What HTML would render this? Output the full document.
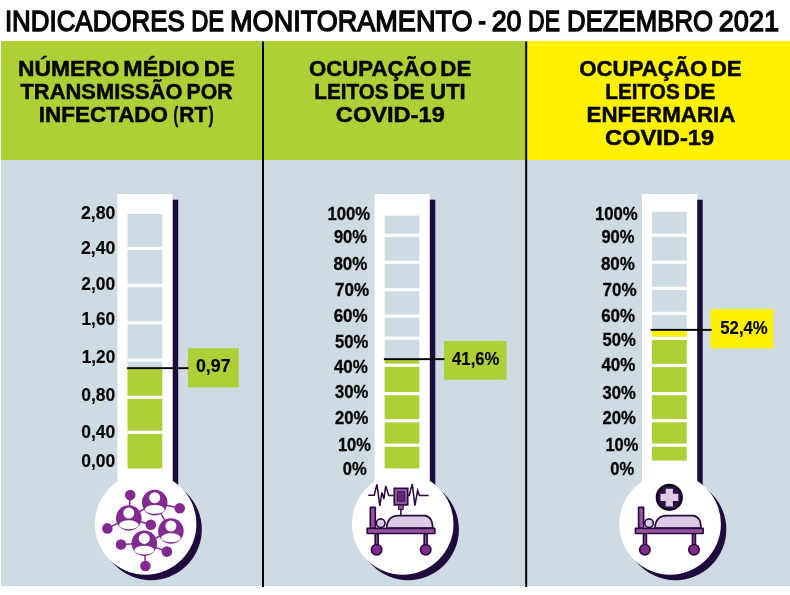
<!DOCTYPE html>
<html lang="pt-BR">
<head>
<meta charset="utf-8">
<title>Indicadores de monitoramento - 20 de dezembro 2021</title>
<style>
html,body{margin:0;padding:0;background:#fff;}
body{width:790px;height:595px;overflow:hidden;font-family:"Liberation Sans",Arial,sans-serif;}
main,figure{margin:0;padding:0;display:block;width:790px;height:595px;}
svg{display:block;}
svg text{font-family:"Liberation Sans",Arial,sans-serif;fill:#060606;}
</style>
</head>
<body>
<main>
<figure aria-label="Indicadores de monitoramento - 20 de dezembro 2021">
<svg width="790" height="595" viewBox="0 0 790 595" role="img">
<rect x="0" y="0" width="790" height="595" fill="#ffffff"/>
<text y="30.85" font-size="30.3" font-weight="normal" stroke="#060606" stroke-width="1.4"><tspan x="4.91" textLength="179.78" lengthAdjust="spacingAndGlyphs">INDICADORES</tspan> <tspan x="191.15" textLength="32.97" lengthAdjust="spacingAndGlyphs">DE</tspan> <tspan x="230.09" textLength="242.4" lengthAdjust="spacingAndGlyphs">MONITORAMENTO</tspan> <tspan x="478.36" textLength="7.77" lengthAdjust="spacingAndGlyphs">-</tspan> <tspan x="491.65" textLength="29.79" lengthAdjust="spacingAndGlyphs">20</tspan> <tspan x="528.12" textLength="31.87" lengthAdjust="spacingAndGlyphs">DE</tspan> <tspan x="567.09" textLength="145.94" lengthAdjust="spacingAndGlyphs">DEZEMBRO</tspan> <tspan x="718.84" textLength="60.18" lengthAdjust="spacingAndGlyphs">2021</tspan></text>
<rect x="1" y="41" width="789" height="545" fill="#cfdbe2"/>
<rect x="1" y="41" width="525" height="119" fill="#add036"/>
<rect x="526" y="41" width="264" height="119" fill="#fff100"/>
<rect x="262" y="41.5" width="2" height="545.5" fill="#000"/>
<rect x="525.2" y="41.5" width="2" height="545.5" fill="#000"/>
<text y="75.8" font-size="22.9" font-weight="bold" stroke="#060606" stroke-width="0.5"><tspan x="18.02" textLength="101.49" lengthAdjust="spacingAndGlyphs">NÚMERO</tspan> <tspan x="123.29" textLength="76.23" lengthAdjust="spacingAndGlyphs">MÉDIO</tspan> <tspan x="203.75" textLength="31.07" lengthAdjust="spacingAndGlyphs">DE</tspan></text>
<text y="98.9" font-size="22.9" font-weight="bold" stroke="#060606" stroke-width="0.5"><tspan x="20.4" textLength="162.07" lengthAdjust="spacingAndGlyphs">TRANSMISSÃO</tspan> <tspan x="186.53" textLength="45.95" lengthAdjust="spacingAndGlyphs">POR</tspan></text>
<text y="121.8" font-size="22.9" font-weight="bold" stroke="#060606" stroke-width="0.5"><tspan x="38.87" textLength="129.11" lengthAdjust="spacingAndGlyphs">INFECTADO</tspan> <tspan x="173.44" textLength="4.72" lengthAdjust="spacingAndGlyphs">(</tspan><tspan x="179.35" textLength="27.93" lengthAdjust="spacingAndGlyphs">RT</tspan><tspan x="208.74" textLength="4.84" lengthAdjust="spacingAndGlyphs">)</tspan></text>
<text y="75.8" font-size="22.9" font-weight="bold" stroke="#060606" stroke-width="0.5"><tspan x="308.95" textLength="128.02" lengthAdjust="spacingAndGlyphs">OCUPAÇÃO</tspan> <tspan x="440.36" textLength="30.96" lengthAdjust="spacingAndGlyphs">DE</tspan></text>
<text y="98.8" font-size="22.9" font-weight="bold" stroke="#060606" stroke-width="0.5"><tspan x="314.37" textLength="74.28" lengthAdjust="spacingAndGlyphs">LEITOS</tspan> <tspan x="393.23" textLength="31.5" lengthAdjust="spacingAndGlyphs">DE</tspan> <tspan x="430.33" textLength="35.39" lengthAdjust="spacingAndGlyphs">UTI</tspan></text>
<text y="121.7" font-size="22.9" font-weight="bold" stroke="#060606" stroke-width="0.5"><tspan x="335.88" textLength="108.95" lengthAdjust="spacingAndGlyphs">COVID-19</tspan></text>
<text y="75.8" font-size="22.9" font-weight="bold" stroke="#060606" stroke-width="0.5"><tspan x="579.25" textLength="128.02" lengthAdjust="spacingAndGlyphs">OCUPAÇÃO</tspan> <tspan x="710.65" textLength="31.07" lengthAdjust="spacingAndGlyphs">DE</tspan></text>
<text y="98.8" font-size="22.9" font-weight="bold" stroke="#060606" stroke-width="0.5"><tspan x="605.27" textLength="74.49" lengthAdjust="spacingAndGlyphs">LEITOS</tspan> <tspan x="683.82" textLength="31.72" lengthAdjust="spacingAndGlyphs">DE</tspan></text>
<text y="121.8" font-size="22.9" font-weight="bold" stroke="#060606" stroke-width="0.5"><tspan x="586.56" textLength="148.78" lengthAdjust="spacingAndGlyphs">ENFERMARIA</tspan></text>
<text y="144.5" font-size="22.9" font-weight="bold" stroke="#060606" stroke-width="0.5"><tspan x="605.08" textLength="109.05" lengthAdjust="spacingAndGlyphs">COVID-19</tspan></text>
<g fill="#1f0a3d"><rect x="123.0" y="199.7" width="55.2" height="300"/><circle cx="151.0" cy="529.4" r="50.8"/></g>
<g fill="#fff"><rect x="117.5" y="194" width="55.2" height="300"/><circle cx="145.6" cy="523.9" r="50.8"/></g>
<rect x="127.5" y="214" width="34.8" height="154.2" fill="#cfdbe2"/>
<rect x="127.5" y="368.2" width="34.8" height="100.2" fill="#add036"/>
<rect x="127.0" y="246.8" width="35.8" height="3.2" fill="#fff"/>
<rect x="127.0" y="283.9" width="35.8" height="3.2" fill="#fff"/>
<rect x="127.0" y="321.1" width="35.8" height="3.2" fill="#fff"/>
<rect x="127.0" y="358.4" width="35.8" height="3.2" fill="#fff"/>
<rect x="127.0" y="395.7" width="35.8" height="3.2" fill="#fff"/>
<rect x="127.0" y="430.7" width="35.8" height="3.2" fill="#fff"/>
<g fill="#1f0a3d"><rect x="380.1" y="199.7" width="55.2" height="300"/><circle cx="408.1" cy="529.4" r="50.8"/></g>
<g fill="#fff"><rect x="374.6" y="194" width="55.2" height="300"/><circle cx="402.7" cy="523.9" r="50.8"/></g>
<rect x="384.6" y="215.6" width="34.8" height="143.6" fill="#cfdbe2"/>
<rect x="384.6" y="359.2" width="34.8" height="109.2" fill="#add036"/>
<rect x="384.1" y="233.7" width="35.8" height="3.2" fill="#fff"/>
<rect x="384.1" y="260.8" width="35.8" height="3.2" fill="#fff"/>
<rect x="384.1" y="288.0" width="35.8" height="3.2" fill="#fff"/>
<rect x="384.1" y="314.5" width="35.8" height="3.2" fill="#fff"/>
<rect x="384.1" y="336.6" width="35.8" height="3.2" fill="#fff"/>
<rect x="384.1" y="363.7" width="35.8" height="3.2" fill="#fff"/>
<rect x="384.1" y="392.0" width="35.8" height="3.2" fill="#fff"/>
<rect x="384.1" y="419.2" width="35.8" height="3.2" fill="#fff"/>
<rect x="384.1" y="443.6" width="35.8" height="3.2" fill="#fff"/>
<g fill="#1f0a3d"><rect x="647.5" y="199.7" width="55.2" height="300"/><circle cx="675.5" cy="529.4" r="50.8"/></g>
<g fill="#fff"><rect x="642.0" y="194" width="55.2" height="300"/><circle cx="670.1" cy="523.9" r="50.8"/></g>
<rect x="652.0" y="211.8" width="34.8" height="117.7" fill="#cfdbe2"/>
<rect x="652.0" y="329.5" width="34.8" height="131.1" fill="#add036"/>
<rect x="652.0" y="329.5" width="34.8" height="7.3" fill="#fff100"/>
<rect x="651.5" y="233.7" width="35.8" height="3.2" fill="#fff"/>
<rect x="651.5" y="260.6" width="35.8" height="3.2" fill="#fff"/>
<rect x="651.5" y="286.7" width="35.8" height="3.2" fill="#fff"/>
<rect x="651.5" y="311.8" width="35.8" height="3.2" fill="#fff"/>
<rect x="651.5" y="336.7" width="35.8" height="3.2" fill="#fff"/>
<rect x="651.5" y="363.9" width="35.8" height="3.2" fill="#fff"/>
<rect x="651.5" y="392.0" width="35.8" height="3.2" fill="#fff"/>
<rect x="651.5" y="419.1" width="35.8" height="3.2" fill="#fff"/>
<rect x="651.5" y="443.6" width="35.8" height="3.2" fill="#fff"/>
<rect x="187.9" y="348.3" width="50.9" height="39.1" fill="#add036"/>
<rect x="127" y="367.2" width="61.5" height="1.9" fill="#000"/>
<text x="195.97" y="371.9" font-size="18.0" font-weight="bold" textLength="34.64" lengthAdjust="spacingAndGlyphs" stroke="#060606" stroke-width="0.15">0,97</text>
<rect x="444" y="341" width="62.5" height="38.7" fill="#add036"/>
<rect x="383.9" y="358.2" width="60.5" height="1.9" fill="#000"/>
<text x="452.12" y="365.2" font-size="17.9" font-weight="bold" textLength="47.24" lengthAdjust="spacingAndGlyphs" stroke="#060606" stroke-width="0.15">41,6%</text>
<rect x="710.7" y="309.1" width="62.7" height="39.3" fill="#fff100"/>
<rect x="650.7" y="328.9" width="61" height="1.9" fill="#000"/>
<text x="720.26" y="334.4" font-size="18.0" font-weight="bold" textLength="47.51" lengthAdjust="spacingAndGlyphs" stroke="#060606" stroke-width="0.15">52,4%</text>
<text x="80.96" y="219.4" font-size="17.9" font-weight="bold" textLength="34.49" lengthAdjust="spacingAndGlyphs" stroke="#060606" stroke-width="0.15">2,80</text>
<text x="80.96" y="253.9" font-size="17.9" font-weight="bold" textLength="34.49" lengthAdjust="spacingAndGlyphs" stroke="#060606" stroke-width="0.15">2,40</text>
<text x="81.27" y="289.5" font-size="17.9" font-weight="bold" textLength="33.87" lengthAdjust="spacingAndGlyphs" stroke="#060606" stroke-width="0.15">2,00</text>
<text x="81.49" y="325.2" font-size="17.9" font-weight="bold" textLength="33.65" lengthAdjust="spacingAndGlyphs" stroke="#060606" stroke-width="0.15">1,60</text>
<text x="81.69" y="363.0" font-size="17.9" font-weight="bold" textLength="33.65" lengthAdjust="spacingAndGlyphs" stroke="#060606" stroke-width="0.15">1,20</text>
<text x="81.28" y="400.6" font-size="17.9" font-weight="bold" textLength="34.06" lengthAdjust="spacingAndGlyphs" stroke="#060606" stroke-width="0.15">0,80</text>
<text x="81.28" y="438.2" font-size="17.9" font-weight="bold" textLength="34.06" lengthAdjust="spacingAndGlyphs" stroke="#060606" stroke-width="0.15">0,40</text>
<text x="81.28" y="466.9" font-size="17.9" font-weight="bold" textLength="34.06" lengthAdjust="spacingAndGlyphs" stroke="#060606" stroke-width="0.15">0,00</text>
<text x="327.4" y="219.8" font-size="17.8" font-weight="bold" textLength="42.8" lengthAdjust="spacingAndGlyphs" stroke="#060606" stroke-width="0.3">100%</text>
<text x="333.88" y="242.6" font-size="17.8" font-weight="bold" textLength="33.11" lengthAdjust="spacingAndGlyphs" stroke="#060606" stroke-width="0.3">90%</text>
<text x="333.41" y="269.6" font-size="17.8" font-weight="bold" textLength="33.99" lengthAdjust="spacingAndGlyphs" stroke="#060606" stroke-width="0.3">80%</text>
<text x="335.02" y="295.9" font-size="17.8" font-weight="bold" textLength="34.08" lengthAdjust="spacingAndGlyphs" stroke="#060606" stroke-width="0.3">70%</text>
<text x="333.63" y="322.4" font-size="17.8" font-weight="bold" textLength="33.97" lengthAdjust="spacingAndGlyphs" stroke="#060606" stroke-width="0.3">60%</text>
<text x="335.04" y="347.9" font-size="17.8" font-weight="bold" textLength="33.35" lengthAdjust="spacingAndGlyphs" stroke="#060606" stroke-width="0.3">50%</text>
<text x="333.89" y="372.6" font-size="17.8" font-weight="bold" textLength="34.01" lengthAdjust="spacingAndGlyphs" stroke="#060606" stroke-width="0.3">40%</text>
<text x="334.97" y="398" font-size="17.8" font-weight="bold" textLength="33.32" lengthAdjust="spacingAndGlyphs" stroke="#060606" stroke-width="0.3">30%</text>
<text x="334.97" y="423.7" font-size="17.8" font-weight="bold" textLength="33.42" lengthAdjust="spacingAndGlyphs" stroke="#060606" stroke-width="0.3">20%</text>
<text x="337.92" y="451.4" font-size="17.8" font-weight="bold" textLength="32.87" lengthAdjust="spacingAndGlyphs" stroke="#060606" stroke-width="0.3">10%</text>
<text x="342.8" y="474.7" font-size="17.8" font-weight="bold" textLength="23.89" lengthAdjust="spacingAndGlyphs" stroke="#060606" stroke-width="0.3">0%</text>
<text x="594.9" y="219.8" font-size="17.8" font-weight="bold" textLength="42.8" lengthAdjust="spacingAndGlyphs" stroke="#060606" stroke-width="0.3">100%</text>
<text x="601.38" y="242.6" font-size="17.8" font-weight="bold" textLength="33.11" lengthAdjust="spacingAndGlyphs" stroke="#060606" stroke-width="0.3">90%</text>
<text x="600.91" y="269.6" font-size="17.8" font-weight="bold" textLength="33.99" lengthAdjust="spacingAndGlyphs" stroke="#060606" stroke-width="0.3">80%</text>
<text x="602.52" y="295.9" font-size="17.8" font-weight="bold" textLength="34.08" lengthAdjust="spacingAndGlyphs" stroke="#060606" stroke-width="0.3">70%</text>
<text x="601.13" y="322.4" font-size="17.8" font-weight="bold" textLength="33.97" lengthAdjust="spacingAndGlyphs" stroke="#060606" stroke-width="0.3">60%</text>
<text x="602.54" y="346.4" font-size="17.8" font-weight="bold" textLength="33.35" lengthAdjust="spacingAndGlyphs" stroke="#060606" stroke-width="0.3">50%</text>
<text x="601.39" y="370.9" font-size="17.8" font-weight="bold" textLength="34.01" lengthAdjust="spacingAndGlyphs" stroke="#060606" stroke-width="0.3">40%</text>
<text x="602.47" y="398.6" font-size="17.8" font-weight="bold" textLength="33.32" lengthAdjust="spacingAndGlyphs" stroke="#060606" stroke-width="0.3">30%</text>
<text x="602.47" y="423.7" font-size="17.8" font-weight="bold" textLength="33.42" lengthAdjust="spacingAndGlyphs" stroke="#060606" stroke-width="0.3">20%</text>
<text x="605.42" y="451.4" font-size="17.8" font-weight="bold" textLength="32.87" lengthAdjust="spacingAndGlyphs" stroke="#060606" stroke-width="0.3">10%</text>
<text x="610.3" y="474.7" font-size="17.8" font-weight="bold" textLength="23.89" lengthAdjust="spacingAndGlyphs" stroke="#060606" stroke-width="0.3">0%</text>
<g stroke="#822a92" stroke-width="1.5">
<line x1="130.2" y1="495.1" x2="128.8" y2="518"/>
<line x1="154.7" y1="502.6" x2="179.7" y2="508.2"/>
<line x1="128.8" y1="518" x2="150.8" y2="524.8"/>
<line x1="128.8" y1="518" x2="107.4" y2="528.4"/>
<line x1="154.7" y1="502.6" x2="128.8" y2="518"/>
<line x1="154.7" y1="502.6" x2="170.9" y2="531"/>
<line x1="170.9" y1="531" x2="144.3" y2="543.3"/>
<line x1="144.3" y1="543.3" x2="121" y2="544.5"/>
<line x1="144.3" y1="543.3" x2="166.9" y2="551.6"/>
<line x1="144.3" y1="543.3" x2="145.4" y2="566"/>
</g>
<g fill="#822a92">
<circle cx="130.2" cy="495.1" r="5.3"/>
<circle cx="179.7" cy="508.2" r="5.3"/>
<circle cx="150.8" cy="524.8" r="5.3"/>
<circle cx="107.4" cy="528.4" r="5.3"/>
<circle cx="121" cy="544.5" r="5.3"/>
<circle cx="166.9" cy="551.6" r="5.3"/>
<circle cx="145.4" cy="566" r="5.3"/>
</g>
<g transform="translate(154.7,502.6)"><circle r="12.8" fill="#822a92"/><circle cx="0" cy="-4.9" r="5.5" fill="#fff"/><ellipse cx="0" cy="6.8" rx="9.8" ry="4.45" fill="#fff"/></g>
<g transform="translate(128.8,518)"><circle r="12.8" fill="#822a92"/><circle cx="0" cy="-4.9" r="5.5" fill="#fff"/><ellipse cx="0" cy="6.8" rx="9.8" ry="4.45" fill="#fff"/></g>
<g transform="translate(170.9,531)"><circle r="12.8" fill="#822a92"/><circle cx="0" cy="-4.9" r="5.5" fill="#fff"/><ellipse cx="0" cy="6.8" rx="9.8" ry="4.45" fill="#fff"/></g>
<g transform="translate(144.3,543.3)"><circle r="12.8" fill="#822a92"/><circle cx="0" cy="-4.9" r="5.5" fill="#fff"/><ellipse cx="0" cy="6.8" rx="9.8" ry="4.45" fill="#fff"/></g>
<g transform="translate(0,0)" stroke="#2a0a3e" stroke-width="1.65" stroke-linejoin="round">
<rect x="375.2" y="534" width="2.9" height="12" fill="#9654a5"/>
<rect x="424.2" y="534" width="2.9" height="12" fill="#9654a5"/>
<circle cx="376.6" cy="549.7" r="5.2" fill="#822a92"/>
<circle cx="425.7" cy="549.7" r="5.2" fill="#822a92"/>
<rect x="370.3" y="507.4" width="5" height="21" fill="#9654a5"/>
<circle cx="380.7" cy="523.2" r="4.3" fill="#dccbe6"/>
<path d="M386.6,528 Q387.2,516 398.5,515.6 L424.5,515.6 Q432.4,516.2 432.8,528 Z" fill="#dccbe6"/>
<rect x="367.2" y="528.3" width="67.6" height="5.2" fill="#9654a5"/>
</g>
<g transform="translate(268.3,0)" stroke="#2a0a3e" stroke-width="1.65" stroke-linejoin="round">
<rect x="375.2" y="534" width="2.9" height="12" fill="#9654a5"/>
<rect x="424.2" y="534" width="2.9" height="12" fill="#9654a5"/>
<circle cx="376.6" cy="549.7" r="5.2" fill="#822a92"/>
<circle cx="425.7" cy="549.7" r="5.2" fill="#822a92"/>
<rect x="370.3" y="507.4" width="5" height="21" fill="#9654a5"/>
<circle cx="380.7" cy="523.2" r="4.3" fill="#dccbe6"/>
<path d="M386.6,528 Q387.2,516 398.5,515.6 L424.5,515.6 Q432.4,516.2 432.8,528 Z" fill="#dccbe6"/>
<rect x="367.2" y="528.3" width="67.6" height="5.2" fill="#9654a5"/>
</g>
<g stroke="#2a0a3e" stroke-width="1.55" fill="none" stroke-linejoin="miter">
<path d="M368.3,495.3 L374.2,495.3 L377,484.4 L379.8,506 L381.9,492.5 L383.9,499 L385.7,486 L388.8,495.5 L393.7,495.5"/>
<path d="M407.9,495.5 L409.2,495.5 L412.3,484 L414.9,505.7 L417.6,490.5 L419.4,495.5 L428.7,495.5"/>
<rect x="394.2" y="488.3" width="13.6" height="16.6" fill="#9654a5"/>
<rect x="397.6" y="491.8" width="6.8" height="9.4" fill="#5b2d75" stroke-width="0.8"/>
<rect x="398.6" y="505" width="4.6" height="4.4" fill="#9654a5" stroke-width="1"/>
<path d="M400.9,509.5 L400.9,515.5"/>
</g>
<circle cx="669.3" cy="497.4" r="12.5" fill="#2c0c49" stroke="#0c0512" stroke-width="2.2"/>
<path d="M665.7,488.8 h7.2 v5 h5.4 v7.2 h-5.4 v5.4 h-7.2 v-5.4 h-5.2 v-7.2 h5.2 Z" fill="#dccbe6"/>
</svg>
</figure>
</main>
</body>
</html>
